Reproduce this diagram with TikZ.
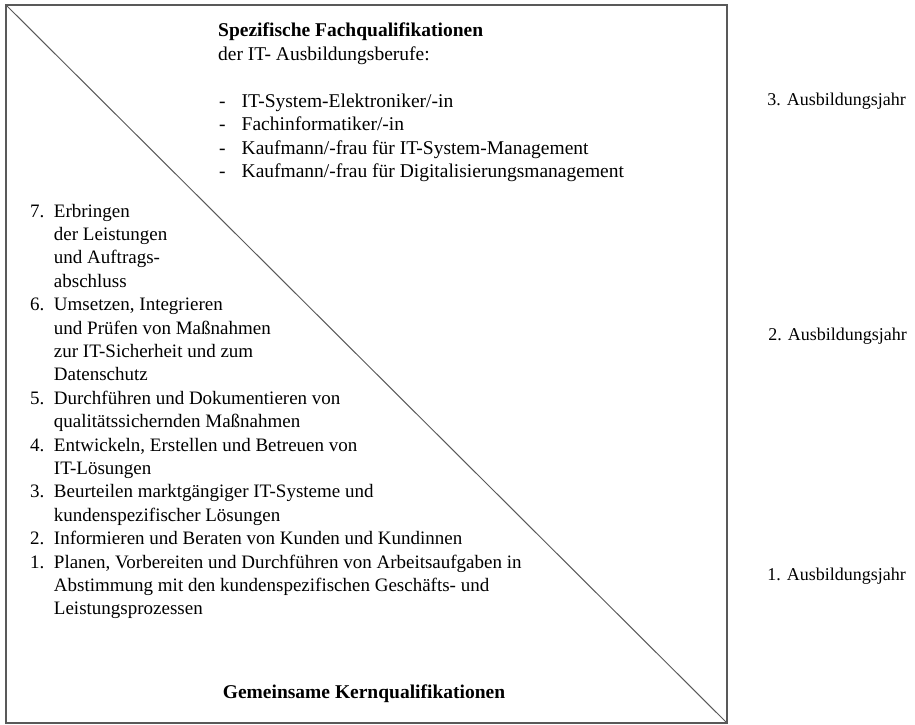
\documentclass[tikz,border=0pt]{standalone}
\usepackage{fontspec}
\setmainfont{Liberation Serif}
\usepackage{array}
\begin{document}
\begin{tikzpicture}[x=1pt,y=-1pt,
  frame/.style={draw=black!65, line width=1.4pt},
  body/.style={inner sep=0pt, font=\fontsize{19.5}{23.5}\selectfont},
  listtext/.style={inner sep=0pt, font=\fontsize{19}{23.4}\selectfont},
  yearlabel/.style={inner sep=0pt, font=\fontsize{18}{21}\selectfont, anchor=base east}]
\useasboundingbox (0,0) rectangle (915,725);

% outer box and the dividing diagonal
\coordinate (tl) at (6,5);
\coordinate (br) at (727,723);
\draw[frame] (tl) rectangle (br);
\draw[draw=black!65, line width=1pt] (tl) -- (br);

% specialised qualifications (upper right triangle)
\node[body, anchor=base west, align=left] (spec) at (218,37) {%
  \begin{tabular}[t]{@{}l@{\hspace{16pt}}l@{}}
  \multicolumn{2}{@{}l@{}}{\textbf{Spezifische Fachqualifikationen}}\\
  \multicolumn{2}{@{}l@{}}{der IT- Ausbildungsberufe:}\\
  & \\
  \hspace{1pt}- & IT-System-Elektroniker/-in\\
  \hspace{1pt}- & Fachinformatiker/-in\\
  \hspace{1pt}- & Kaufmann/-frau für IT-System-Management\\
  \hspace{1pt}- & Kaufmann/-frau für Digitalisierungsmanagement
  \end{tabular}};

% common core qualifications (lower left triangle)
\node[listtext, anchor=base west, align=left] (core) at (30,217) {%
  \begin{tabular}[t]{@{}l@{\hspace{9.5pt}}l@{}}
  7. & Erbringen\\
     & der Leistungen\\
     & und Auftrags-\\
     & abschluss\\
  6. & Umsetzen, Integrieren\\
     & und Prüfen von Maßnahmen\\
     & zur IT-Sicherheit und zum\\
     & Datenschutz\\
  5. & Durchführen und Dokumentieren von\\
     & qualitätssichernden Maßnahmen\\
  4. & Entwickeln, Erstellen und Betreuen von\\
     & IT-Lösungen\\
  3. & Beurteilen marktgängiger IT-Systeme und\\
     & kundenspezifischer Lösungen\\
  2. & Informieren und Beraten von Kunden und Kundinnen\\
  1. & Planen, Vorbereiten und Durchführen von Arbeitsaufgaben in\\
     & Abstimmung mit den kundenspezifischen Geschäfts- und\\
     & Leistungsprozessen
  \end{tabular}};

\node[body, font=\fontsize{19.5}{23.5}\selectfont\bfseries, anchor=base] (coretitle) at (364,698) {Gemeinsame Kernqualifikationen};

% training years
\node[yearlabel] (year3) at (906,105) {3. Ausbildungsjahr};
\node[yearlabel] (year2) at (907,340) {2. Ausbildungsjahr};
\node[yearlabel] (year1) at (906,580) {1. Ausbildungsjahr};
\end{tikzpicture}
\end{document}
